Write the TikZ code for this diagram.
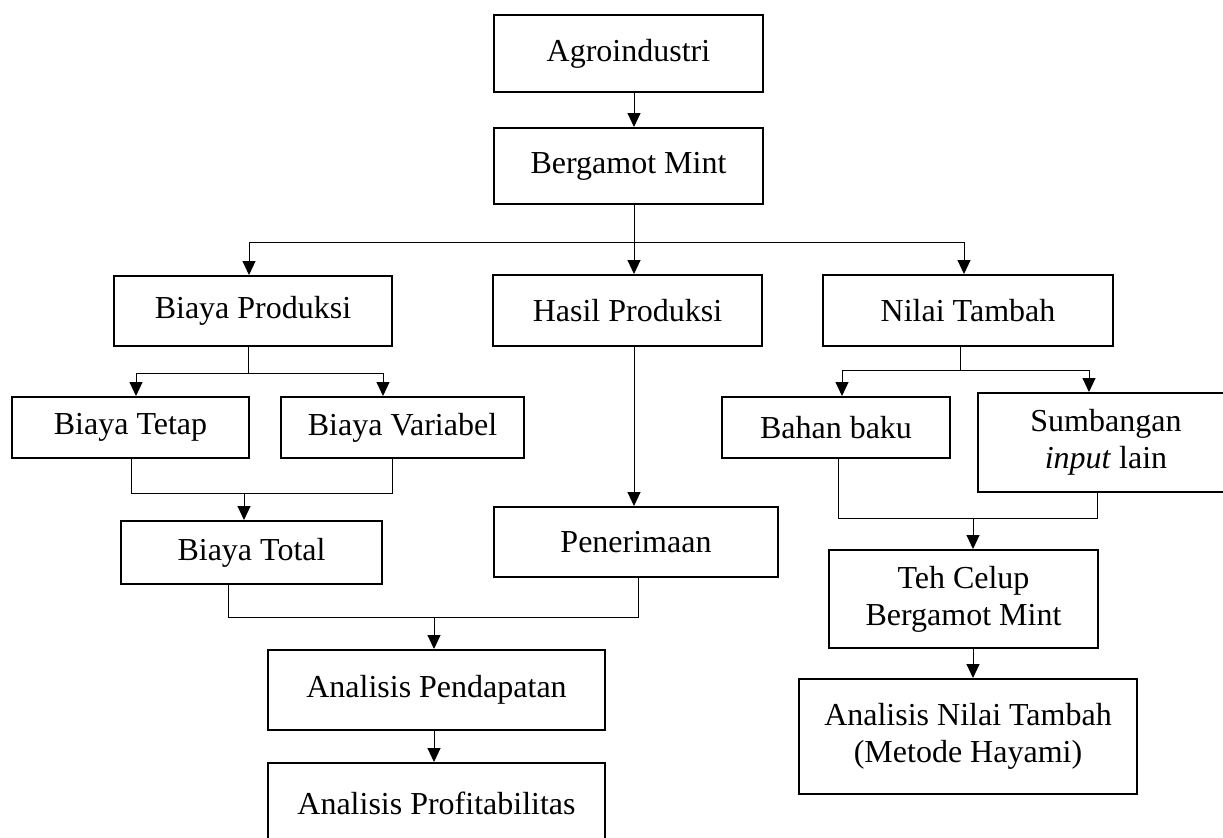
\documentclass[tikz,border=0pt]{standalone}
\usepackage{fontspec}
\setmainfont{Liberation Serif}
\usetikzlibrary{arrows.meta}

\tikzset{
  box/.style={draw, line width=1pt, align=center, inner sep=2pt,
    font=\fontsize{16}{18.5}\selectfont},
  link/.style={line width=0.5pt},
  arr/.style={link, -{Triangle[length=7pt,width=6.5pt]}}
}

\begin{document}
\begin{tikzpicture}[x=0.5pt,y=-0.5pt]
    \useasboundingbox (0,0) rectangle (1223,837);
    \clip (0,0) rectangle (1223,837);
    % boxes
    \node[box, minimum width=134.5pt, minimum height=38.5pt] (agro) at (628.5,53.5) {Agroindustri};
    \node[box, minimum width=134.5pt, minimum height=38pt] (bergamot) at (628.5,166) {Bergamot Mint};
    \node[box, minimum width=139pt, minimum height=35pt] (biayaprod) at (253,311) {Biaya Produksi};
    \node[box, minimum width=134.5pt, minimum height=35.5pt] (hasil) at (627.5,310.5) {Hasil Produksi};
    \node[box, minimum width=145pt, minimum height=35.5pt] (nilai) at (968,310.5) {Nilai Tambah};
    \node[box, minimum width=118.5pt, minimum height=30.5pt] (tetap) at (130.5,427.5) {Biaya Tetap};
    \node[box, minimum width=121.5pt, minimum height=30.5pt] (variabel) at (402.5,427.5) {Biaya Variabel};
    \node[box, minimum width=114pt, minimum height=30.5pt] (bahan) at (836,427.5) {Bahan baku};
    \node[box, minimum width=128pt, minimum height=49.5pt] (sumbangan) at (1106,442.5) {Sumbangan\\\textit{input} lain};
    \node[box, minimum width=130.5pt, minimum height=31.5pt] (total) at (251.5,552.5) {Biaya Total};
    \node[box, minimum width=142pt, minimum height=35pt] (terima) at (636,542) {Penerimaan};
    \node[box, minimum width=134.5pt, minimum height=49pt] (teh) at (963.5,599) {Teh Celup\\Bergamot Mint};
    \node[box, minimum width=168.5pt, minimum height=40pt] (pendapatan) at (436.5,690) {Analisis Pendapatan};
    \node[box, minimum width=168.5pt, minimum height=40pt] (profit) at (436.5,803) {Analisis Profitabilitas};
    \node[box, minimum width=169pt, minimum height=57.5pt] (hayami) at (968,736.5) {Analisis Nilai Tambah\\(Metode Hayami)};
    % junction points
    \coordinate (top) at (634,242);
    \coordinate (topL) at (249,242);
    \coordinate (topR) at (964,242);
    \coordinate (bpJ) at (248,373);
    \coordinate (bpL) at (136,373);
    \coordinate (bpR) at (383,373);
    \coordinate (btJ) at (244,493);
    \coordinate (btL) at (131,493);
    \coordinate (btR) at (392,493);
    \coordinate (pdJ) at (434,617);
    \coordinate (pdL) at (228,617);
    \coordinate (pdR) at (638,617);
    \coordinate (ntJ) at (960,370);
    \coordinate (ntL) at (842,370);
    \coordinate (ntR) at (1089,370);
    \coordinate (bbJ) at (973,518);
    \coordinate (bbL) at (838,518);
    \coordinate (bbR) at (1097,518);
    % connectors
    \draw[arr] (agro.south -| top) -- (top |- bergamot.north);
    \draw[link] (bergamot.south -| top) -- (top);
    \draw[link] (topL) -- (topR);
    \draw[arr] (topL) -- (topL |- biayaprod.north);
    \draw[arr] (top) -- (top |- hasil.north);
    \draw[arr] (topR) -- (topR |- nilai.north);
    \draw[link] (biayaprod.south -| bpJ) -- (bpJ);
    \draw[link] (bpL) -- (bpR);
    \draw[arr] (bpL) -- (bpL |- tetap.north);
    \draw[arr] (bpR) -- (bpR |- variabel.north);
    \draw[link] (tetap.south -| btL) -- (btL) -- (btR) -- (variabel.south -| btR);
    \draw[arr] (btJ) -- (btJ |- total.north);
    \draw[arr] (hasil.south -| top) -- (top |- terima.north);
    \draw[link] (total.south -| pdL) -- (pdL) -- (pdR) -- (terima.south -| pdR);
    \draw[arr] (pdJ) -- (pdJ |- pendapatan.north);
    \draw[arr] (pendapatan.south -| pdJ) -- (pdJ |- profit.north);
    \draw[link] (nilai.south -| ntJ) -- (ntJ);
    \draw[link] (ntL) -- (ntR);
    \draw[arr] (ntL) -- (ntL |- bahan.north);
    \draw[arr] (ntR) -- (ntR |- sumbangan.north);
    \draw[link] (bahan.south -| bbL) -- (bbL) -- (bbR) -- (sumbangan.south -| bbR);
    \draw[arr] (bbJ) -- (bbJ |- teh.north);
    \draw[arr] (teh.south -| bbJ) -- (bbJ |- hayami.north);
\end{tikzpicture}
\end{document}
